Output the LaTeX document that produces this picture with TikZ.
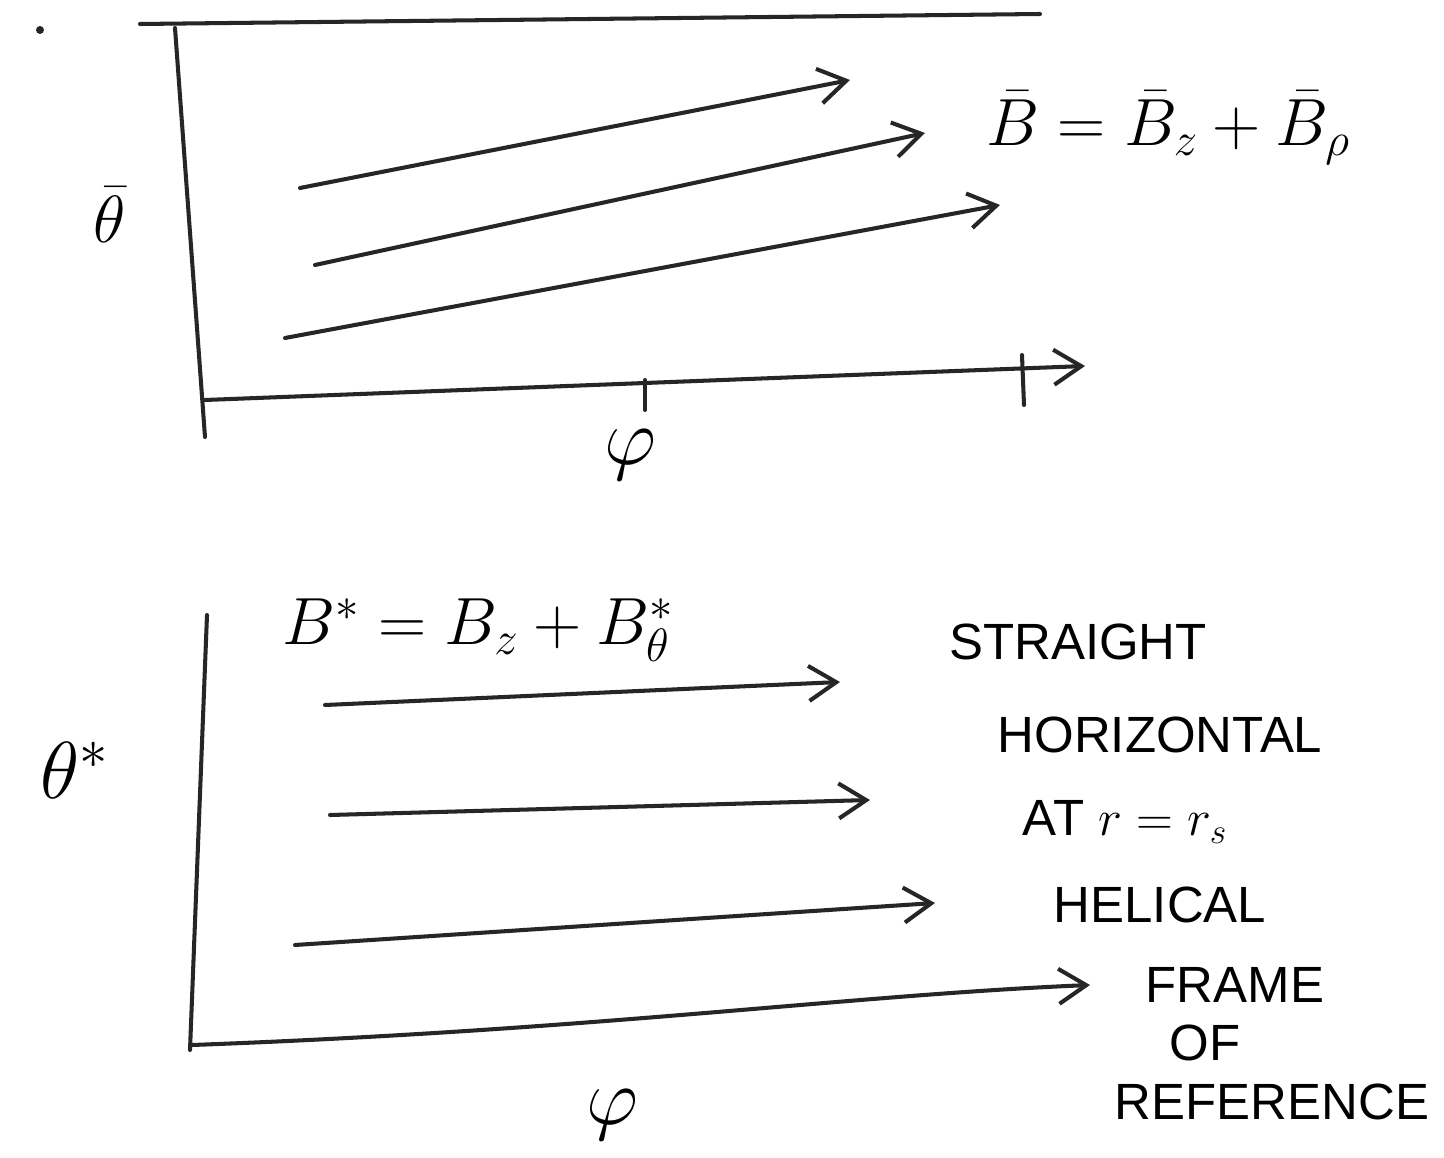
\documentclass[tikz,border=0pt]{standalone}
\usepackage{fix-cm}
\usepackage{fontspec}
\usetikzlibrary{arrows.meta}
\newfontfamily\handfont{Liberation Sans}
\begin{document}
\begin{tikzpicture}[x=0.02cm,y=-0.02cm,line width=2.3pt,line cap=round,line join=round,
  stroke/.style={draw=black!85},
  vec/.style={stroke,-{Straight Barb[length=0.55cm,width=0.7cm,line width=2.3pt]}},
  mathlbl/.style={inner sep=0pt,font=\fontsize{38}{44}\selectfont},
  biglbl/.style={inner sep=0pt,font=\fontsize{46}{52}\selectfont},
  note/.style={inner sep=0pt,font=\handfont\fontsize{29}{34}\selectfont}]
\useasboundingbox (0,0) rectangle (1444,1158);
\fill[white] (0,0) rectangle (1444,1158);

% ---------- top panel ----------
\fill[black!85] (40,30) circle (4);
\coordinate (tl) at (140,24);
\coordinate (tr) at (1040,14);
\draw[stroke] (tl) -- (tr);
\coordinate (ya1) at (175,28);
\coordinate (o1) at (205,437);
\draw[stroke] (ya1) -- (o1);
\coordinate (xa1s) at (205,400);
\coordinate (xa1e) at (1085,366);
\draw[vec] (xa1s) -- (xa1e);
\coordinate (t1a) at (645,380);
\coordinate (t1b) at (645,410);
\draw[stroke] (t1a) -- (t1b);
\coordinate (t2a) at (1022,355);
\coordinate (t2b) at (1024,405);
\draw[stroke] (t2a) -- (t2b);

\coordinate (a1s) at (300,188); \coordinate (a1e) at (850,80);
\coordinate (a2s) at (315,265); \coordinate (a2e) at (925,133);
\coordinate (a3s) at (285,338); \coordinate (a3e) at (1000,205);
\draw[vec] (a1s) -- (a1e);
\draw[vec] (a2s) -- (a2e);
\draw[vec] (a3s) -- (a3e);

\node[mathlbl] (Bbar) at (1168,128) {$\bar B = \bar B_z + \bar B_\rho$};
\node[mathlbl] (thbar) at (110,215) {$\bar\theta$};
\node[biglbl] (phi1) at (630,455) {$\varphi$};

% ---------- bottom panel ----------
\coordinate (ya2) at (207,615);
\coordinate (o2) at (190,1050);
\draw[stroke] (ya2) -- (o2);
\coordinate (xa2s) at (192,1045);
\coordinate (xa2e) at (1090,985);
\draw[vec] (xa2s) .. controls (600,1030) and (850,995) .. (xa2e);

\coordinate (b1s) at (325,705); \coordinate (b1e) at (840,682);
\coordinate (b2s) at (330,815); \coordinate (b2e) at (870,800);
\coordinate (b3s) at (295,945); \coordinate (b3e) at (935,903);
\draw[vec] (b1s) -- (b1e);
\draw[vec] (b2s) -- (b2e);
\draw[vec] (b3s) -- (b3e);

\node[mathlbl] (Bstar) at (478,630) {$B^* = B_z + B^*_\theta$};
\node[biglbl] (thstar) at (75,770) {$\theta^*$};
\node[biglbl] (phi2) at (612,1115) {$\varphi$};

\node[note] (n1) at (1078,642) {STRAIGHT};
\node[note] (n2) at (1160,735) {HORIZONTAL};
\node[note] (n3) at (1125,822) {AT $r=r_s$};
\node[note] (n4) at (1160,905) {HELICAL};
\node[note] (n5) at (1235,985) {FRAME};
\node[note] (n6) at (1205,1043) {OF};
\node[note] (n7) at (1272,1102) {REFERENCE};
\end{tikzpicture}
\end{document}
